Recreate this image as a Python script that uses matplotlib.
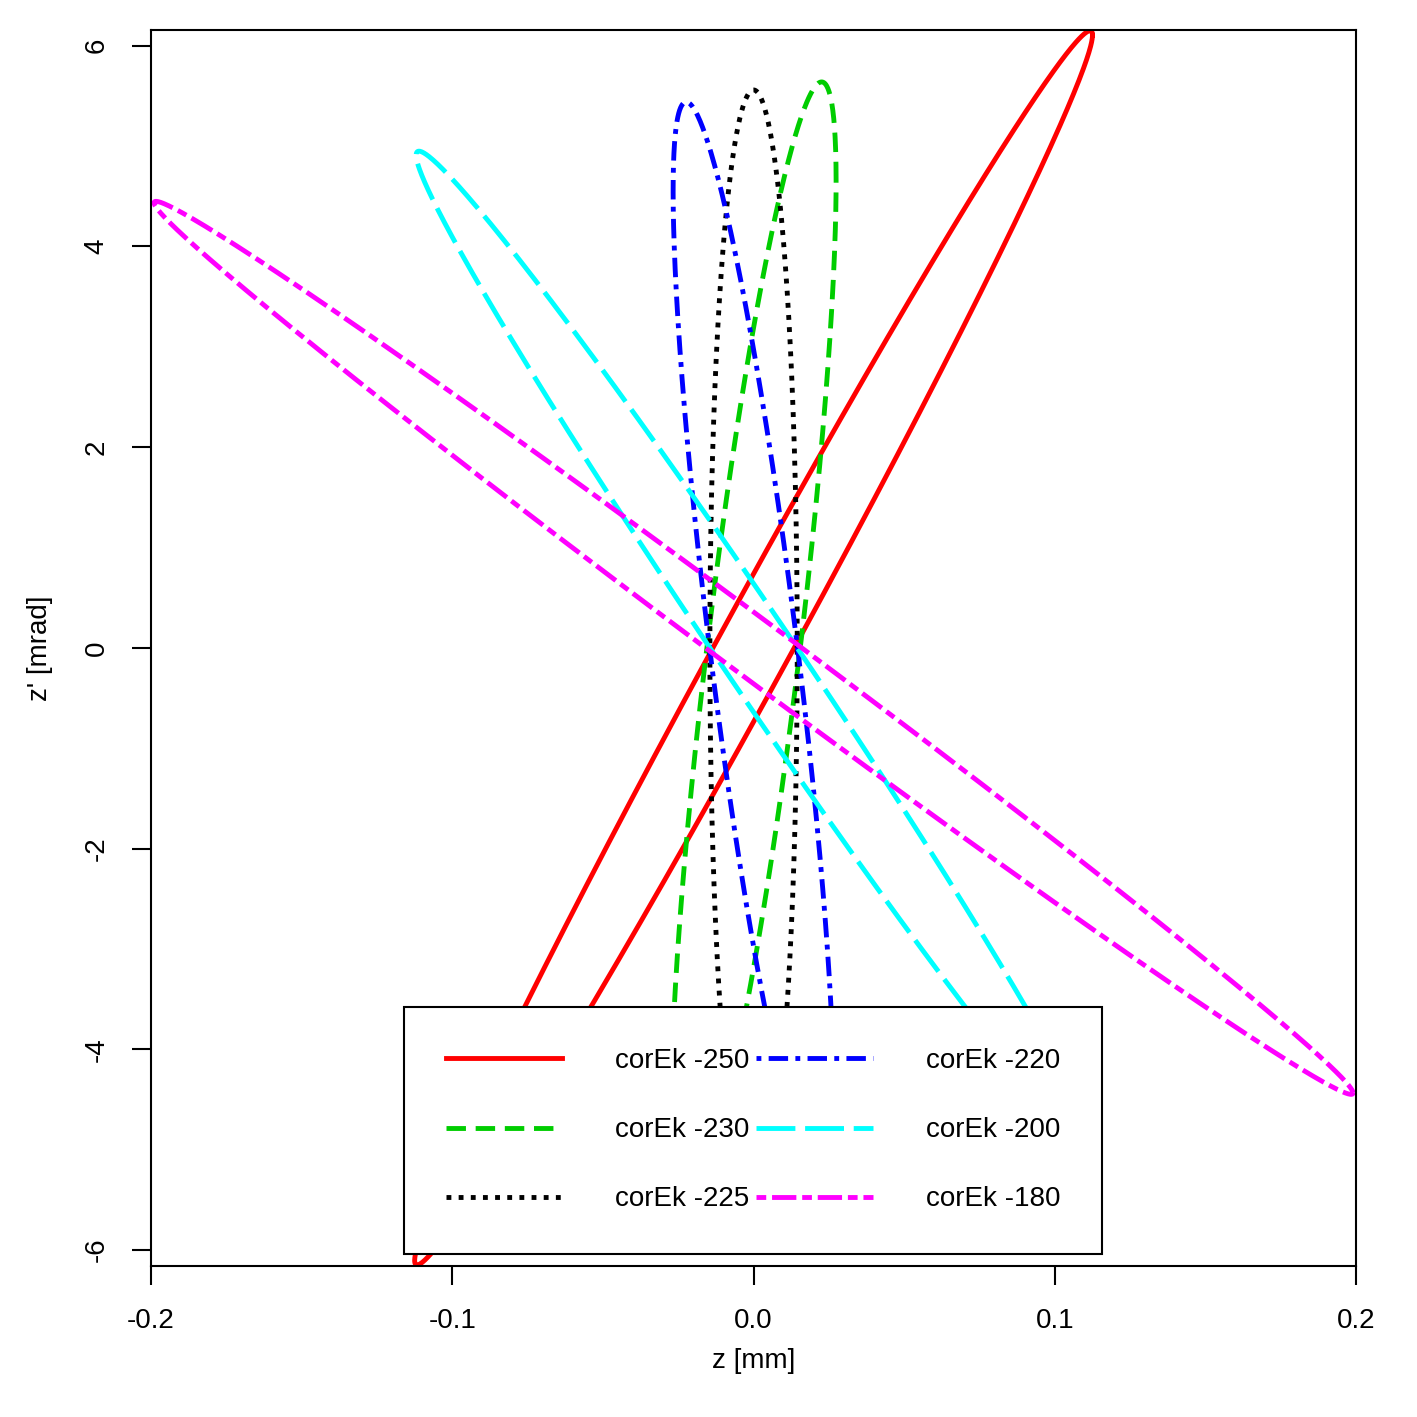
import numpy as np
import matplotlib
matplotlib.use('Agg')
import matplotlib.pyplot as plt

plt.rcParams['font.family'] = 'Liberation Sans'
plt.rcParams['axes.unicode_minus'] = False

# ellipse parameters
labels = ['corEk -250', 'corEk -230', 'corEk -225', 'corEk -220', 'corEk -200', 'corEk -180']
z_max = [0.1125, 0.0274, 0.0145, 0.0267, 0.112, 0.199]        # mm, max |z|
zp_max = [6.15, 5.64, 5.56, 5.44, 4.95, 4.45]                 # mrad, max |z'|
z_half0 = [0.0135, 0.0155, 0.0145, 0.0146, 0.0145, 0.016]     # half width at z'=0
tilt = [1, 1, 1, -1, -1, -1]
colors = ['#ff0000', '#00cd00', '#000000', '#0000ff', '#00ffff', '#ff00ff']
styles = ['-', (0, (4, 2)), (0, (1, 1.5)), (0, (1, 1.5, 4, 1.5)), (0, (8, 2)), (0, (2, 1.2, 5, 1.2))]

fig = plt.figure(figsize=(14.17, 14.17), dpi=100)
ax = fig.add_axes([0.1066, 0.1066, 0.957 - 0.1066, 0.979 - 0.1066])

t = np.linspace(0, 2 * np.pi, 600)
for A, ym, w0, s, c, ls, lab in zip(z_max, zp_max, z_half0, tilt, colors, styles, labels):
    h = min(w0 * ym / A, ym)
    a = s * np.sqrt(max(ym ** 2 - h ** 2, 0))
    ax.plot(A * np.cos(t), a * np.cos(t) + h * np.sin(t), color=c, lw=3.5, linestyle=ls, label=lab)

ax.set_xlim(-0.2, 0.2)
ax.set_ylim(-6.16, 6.16)
ax.set_xticks([-0.2, -0.1, 0.0, 0.1, 0.2])
ax.set_xticklabels(['-0.2', '-0.1', '0.0', '0.1', '0.2'])
ax.set_yticks([-6, -4, -2, 0, 2, 4, 6])
ax.tick_params(direction='out', length=14, width=1.5, labelsize=20, pad=16)
plt.setp(ax.get_yticklabels(), rotation=90, va='center')
for sp in ax.spines.values():
    sp.set_linewidth(1.5)
ax.set_xlabel('z [mm]', fontsize=20, labelpad=10)
ax.set_ylabel("z' [mrad]", fontsize=20, labelpad=22)

leg = ax.legend(ncol=2, loc='lower left', bbox_to_anchor=(0.21, 0.0097, 0.579, 0.233), mode='expand',
                fontsize=20, frameon=True, fancybox=False, edgecolor='black', framealpha=1,
                handlelength=4.2, handletextpad=1.9, labelspacing=1.55, columnspacing=0.3,
                borderpad=1.5, borderaxespad=0)
leg.get_frame().set_linewidth(1.5)

fig.savefig('out.png')
